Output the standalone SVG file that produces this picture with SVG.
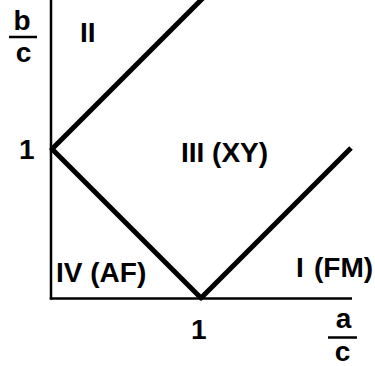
<svg xmlns="http://www.w3.org/2000/svg" width="375" height="366" viewBox="0 0 375 366">
<style>
.t{font-family:"Liberation Sans",Arial,sans-serif;font-weight:bold;font-size:28px;fill:#000}
.m{text-anchor:middle}
.ax{stroke:#000;stroke-width:2.5;fill:none}
.bd{stroke:#000;stroke-width:5;fill:none;stroke-linejoin:round}
</style>
<rect width="375" height="366" fill="#fff"/>
<g id="axes">
<line class="ax" x1="51" y1="0" x2="51" y2="299.5"/>
<line class="ax" x1="49.75" y1="298.5" x2="352" y2="298.5"/>
</g>
<g id="boundaries">
<polyline class="bd" points="204,-3 52,149 201,298 351,148"/>
</g>
<g id="labels">
<text class="t m" x="22" y="30">b</text>
<line x1="9" y1="37" x2="37" y2="37" stroke="#000" stroke-width="2.5"/>
<text class="t m" x="23.5" y="62">c</text>
<text class="t" x="80" y="42">II</text>
<text class="t" x="19" y="159">1</text>
<text class="t" x="181" y="162">III (XY)</text>
<text class="t" x="56" y="282">IV (AF)</text>
<text class="t" x="296" y="277">I <tspan x="314">(FM)</tspan></text>
<text class="t" x="191" y="339">1</text>
<text class="t m" x="343.5" y="328">a</text>
<line x1="328" y1="337.5" x2="357" y2="337.5" stroke="#000" stroke-width="2.5"/>
<text class="t m" x="342.5" y="361">c</text>
</g>
</svg>
